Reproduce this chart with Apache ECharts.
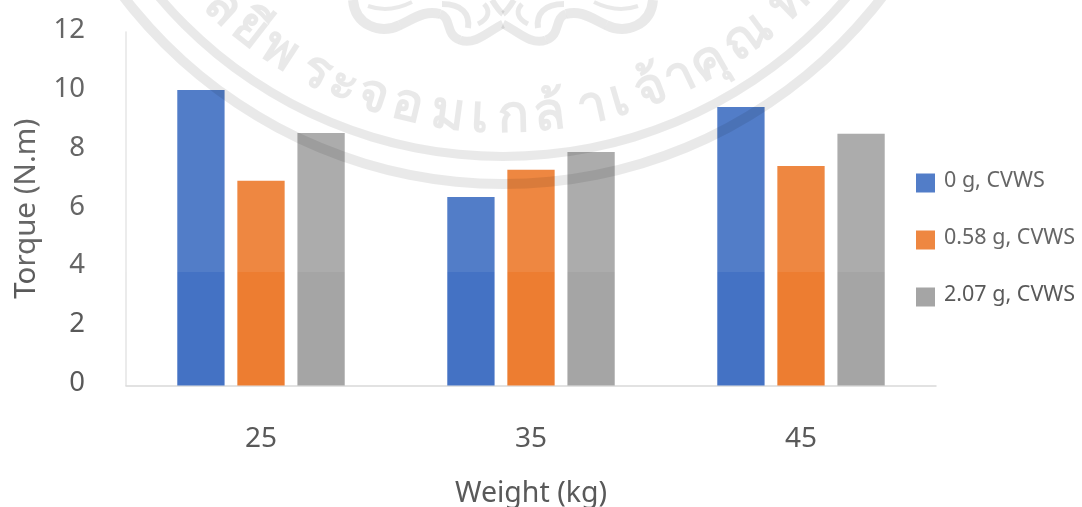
<!DOCTYPE html>
<html>
<head>
<meta charset="utf-8">
<style>html,body{margin:0;padding:0;background:#fff}#c{width:1082px;height:507px}</style>
<script src="https://cdn.jsdelivr.net/npm/echarts@6/dist/echarts.min.js"></script>
</head>
<body>
<div id="c"></div>
<script>
// Torque against rider weight for three CVWS loadings
const weights = ['25', '35', '45'];
const cvws0 = [10.03, 6.4, 9.45];
const cvws058 = [6.95, 7.32, 7.45];
const cvws207 = [8.57, 7.93, 8.55];
const seriesNames = ['0 g, CVWS', '0.58 g, CVWS', '2.07 g, CVWS'];
const seriesColors = ['#4472C4', '#ED7D31', '#A5A5A5'];

const FONT = '"Noto Sans", sans-serif';
const TEXT = '#595959';

// Institutional seal printed over the page
const SEAL = 'rgba(0,0,0,0.085)';
const SEAL_X = 503, SEAL_Y = -294;
const sealGlyphs = ['ล','ยี','พ','ร','ะ','จ','อ','ม','เ','ก','ล้','า','เ','จ้','า','คุ','ณ','ท'];
const sealAngles = [-43,-38,-33,-27,-22.8,-18.5,-13.5,-7.7,-3.2,1.4,6.5,12.5,16.5,21,25.5,30,36.5,44];

const sealText = sealGlyphs.map((g, i) => {
  const a = sealAngles[i] * Math.PI / 180;
  const r = 411;
  return {
    type: 'text', z: 101,
    x: SEAL_X + r * Math.sin(a),
    y: SEAL_Y + r * Math.cos(a),
    rotation: a,
    style: { text: g, fill: SEAL, font: 'bold 52px ' + FONT, textAlign: 'center', textVerticalAlign: 'middle' }
  };
});

// Ornamental wave at the foot of the crest: left half as cubic segments, mirrored about the seal axis
const waveHalf = [
  { w: 10, p: [353,0, 355,25, 380,35, 400,25] },
  { w: 10, p: [400,25, 415,18, 425,10, 440,14] },
  { w: 9,  p: [440,14, 452,18, 445,35, 460,40] },
  { w: 9,  p: [460,40, 475,46, 490,30, 503,24] },
  { w: 4,  p: [368,6, 385,12, 400,8, 412,2] },
  { w: 6,  p: [442,4, 462,4, 470,14, 468,28] },
  { w: 5,  p: [478,24, 490,18, 490,10, 484,4] },
  { w: 6,  p: [492,0, 497,8, 500,12, 503,14] }
];
const mirrorX = x => 2 * SEAL_X - x;
const waveParts = waveHalf.flatMap(({ w, p }) => [p, p.map((v, i) => (i % 2 === 0 ? mirrorX(v) : v))].map(s => ({
  type: 'bezierCurve', z: 101,
  shape: { x1: s[0], y1: s[1], cpx1: s[2], cpy1: s[3], cpx2: s[4], cpy2: s[5], x2: s[6], y2: s[7] },
  style: { fill: null, stroke: SEAL, lineWidth: w, lineCap: 'butt' }
})));

const sealParts = [
  { type: 'ring', z: 101, shape: { cx: SEAL_X, cy: SEAL_Y, r: 455, r0: 446 }, style: { fill: SEAL } },
  { type: 'ring', z: 101, shape: { cx: SEAL_X, cy: SEAL_Y, r: 483, r0: 473 }, style: { fill: SEAL } }
];

const chart = echarts.init(document.getElementById('c'), null, { renderer: 'canvas' });
chart.setOption({
  animation: false,
  backgroundColor: '#fff',
  grid: { left: 126, right: 146, top: 32, bottom: 121.5, outerBoundsMode: 'none' },
  xAxis: {
    type: 'category', data: weights,
    name: 'Weight (kg)', nameLocation: 'middle', nameGap: 94,
    nameTextStyle: { fontFamily: FONT, fontSize: 28.5, color: TEXT },
    axisLine: { lineStyle: { color: '#D9D9D9', width: 1.5 } },
    axisTick: { show: false },
    axisLabel: { fontFamily: FONT, fontSize: 28, color: TEXT, margin: 39.5 }
  },
  yAxis: {
    type: 'value', min: 0, max: 12, interval: 2,
    name: 'Torque (N.m)', nameLocation: 'middle', nameGap: 84,
    nameTextStyle: { fontFamily: FONT, fontSize: 29.5, color: TEXT },
    axisLine: { show: true, lineStyle: { color: '#E4E4E4', width: 1.5 } },
    axisTick: { show: false },
    splitLine: { show: false },
    axisLabel: { fontFamily: FONT, fontSize: 27.5, color: TEXT, margin: 41, verticalAlign: 'bottom', lineHeight: 4 }
  },
  legend: {
    orient: 'vertical', left: 911, top: 165,
    itemWidth: 19, itemHeight: 19, itemGap: 31,
    icon: 'rect',
    formatter: name => '{t|' + name + '}',
    textStyle: {
      rich: { t: { fontFamily: FONT, fontSize: 21.5, lineHeight: 19, color: TEXT, padding: [0, 0, 4, 4] } }
    },
    data: seriesNames
  },
  series: [cvws0, cvws058, cvws207].map((values, i) => ({
    name: seriesNames[i], type: 'bar', data: values,
    barWidth: 47.3, barGap: '27%',
    itemStyle: { color: seriesColors[i] }
  })),
  graphic: { elements: [
    { type: 'rect', z: 100, shape: { x: 0, y: 0, width: 1082, height: 272 }, style: { fill: 'rgba(255,255,255,0.08)' } },
    ...sealParts, ...waveParts, ...sealText
  ] }
});
</script>
</body>
</html>
